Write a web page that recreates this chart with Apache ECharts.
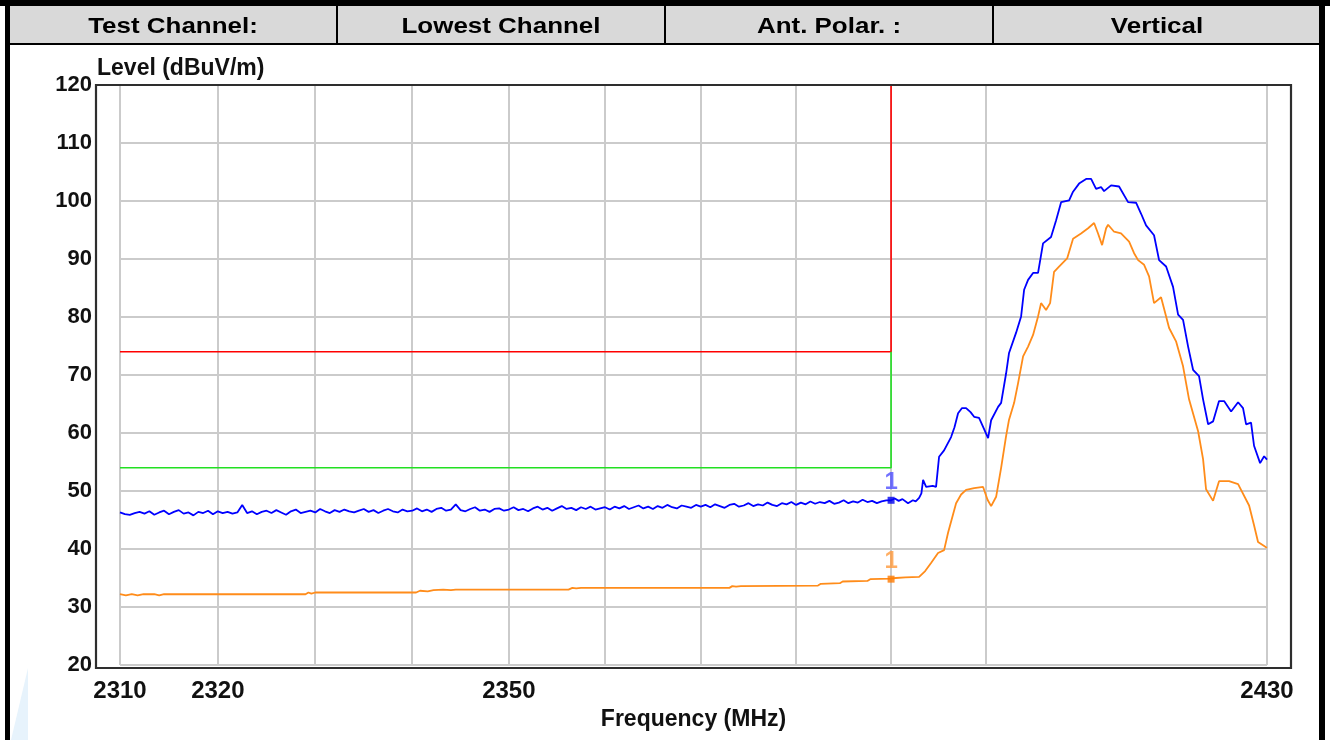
<!DOCTYPE html>
<html><head><meta charset="utf-8">
<script src="https://cdn.jsdelivr.net/npm/echarts@6/dist/echarts.min.js"></script>
<style>html,body{margin:0;padding:0;background:#fff}#c{width:1330px;height:740px}</style>
</head><body><div id="c"></div>
<script>
// ---------- texts ----------
const headerCells = ['Test Channel:', 'Lowest Channel', 'Ant. Polar. :', 'Vertical'];
const yAxisTitle = 'Level (dBuV/m)';
const xAxisTitle = 'Frequency (MHz)';
const markerText = '1';

// ---------- axes ----------
const xMin = 2310, xMax = 2430;            // MHz, logarithmic axis
const yMin = 20, yMax = 120, yStep = 10;   // dBuV/m
const gridFreqs = [2310, 2320, 2330, 2340, 2350, 2360, 2370, 2380, 2390, 2400, 2430];
const labelFreqs = [2310, 2320, 2350, 2430];

// ---------- limit lines ----------
const limitPeak = [[2310, 74], [2390, 74], [2390, 120]];
const limitAvg  = [[2310, 54], [2390, 54], [2390, 74]];

// ---------- peak trace (blue) ----------
// sweep 2310 .. 2390 MHz, 0.5 MHz per reading
const blueSweepStart = 2310, blueSweepStep = 0.5;
const blueSweep = [
 46.3,46.0,45.9,46.2,46.4,46.1,46.5,45.9,46.3,46.6,46.0,46.4,46.7,46.1,46.3,45.8,46.4,46.2,46.6,46.0,
 46.5,46.2,46.4,46.1,46.3,47.6,46.2,46.5,46.0,46.4,46.6,46.2,46.7,46.3,45.9,46.5,46.8,46.2,46.4,46.6,
 46.3,46.9,46.5,46.2,46.7,46.4,46.8,46.5,46.3,46.6,46.9,46.4,46.7,46.2,46.6,46.9,46.5,46.3,46.8,46.5,
 46.6,47.0,46.5,46.8,46.4,46.9,47.1,46.6,46.8,47.7,46.7,46.5,46.9,47.2,46.6,46.8,46.4,46.9,47.0,46.6,
 46.8,47.2,46.7,46.9,46.5,47.0,47.3,46.8,47.1,46.6,47.0,47.4,46.9,47.1,46.7,47.2,46.9,47.3,46.8,47.0,
 47.2,46.8,47.3,47.0,47.4,46.9,47.2,47.5,47.0,47.3,46.9,47.4,47.1,47.6,47.2,47.0,47.5,47.3,47.1,47.6,
 47.3,47.6,47.2,47.7,47.4,47.1,47.6,47.8,47.3,47.5,47.9,47.4,47.7,47.5,48.0,47.6,47.4,47.9,47.7,48.1,
 47.6,48.0,47.7,48.2,47.8,48.1,47.9,48.3,47.8,48.0,48.4,47.9,48.2,48.0,48.5,48.1,48.3,47.9,48.2,48.4,
 48.4
];
const blueTail = [
 [2390.4,48.7],[2390.8,48.3],[2391.2,48.6],[2391.79,47.9],[2392.3,48.4],[2392.6,48.2],[2392.96,48.8],
 [2393.2,49.6],[2393.38,51.9],[2393.7,50.7],[2394.4,50.9],[2394.75,50.7],[2395.07,55.9],[2395.6,57.0],
 [2396.34,59.3],[2396.7,61.0],[2397.08,63.4],[2397.5,64.3],[2397.93,64.3],[2398.4,63.6],[2398.78,62.8],
 [2399.3,62.6],[2399.8,60.8],[2400.26,59.1],[2400.58,62.2],[2401.32,64.5],[2401.64,65.2],[2402.17,70.3],
 [2402.48,73.8],[2403.23,77.3],[2403.76,80.1],[2404.08,84.7],[2404.5,86.4],[2405.03,87.6],[2405.56,87.6],
 [2406.09,92.7],[2406.94,93.8],[2407.48,96.7],[2408.01,99.8],[2408.86,100.1],[2409.28,101.6],[2409.92,103.0],
 [2410.67,103.8],[2411.2,103.8],[2411.73,102.1],[2412.26,102.4],[2412.58,101.7],[2413.33,102.7],[2414.18,102.5],
 [2415.14,99.8],[2415.99,99.7],[2416.53,97.8],[2417.06,95.8],[2417.91,94.1],[2418.45,89.8],[2419.2,88.7],
 [2419.94,85.2],[2420.48,80.4],[2421.01,79.5],[2421.55,74.9],[2422.08,70.9],[2422.72,69.8],[2423.15,65.8],
 [2423.69,61.5],[2424.22,62.0],[2424.86,65.5],[2425.4,65.5],[2426.15,63.7],[2426.9,65.3],[2427.43,64.3],
 [2427.76,61.5],[2428.29,61.8],[2428.61,57.8],[2429.26,54.8],[2429.69,56.0],[2430.0,55.4]
];

// ---------- average trace (orange) ----------
const orangeTrace = [
 [2310,32.2],[2310.6,32.0],[2311.2,32.2],[2311.8,32.0],[2312.4,32.2],[2313.5,32.2],[2314,32.0],[2314.5,32.2],
 [2329.0,32.2],[2329.3,32.5],[2329.6,32.3],[2330.0,32.5],
 [2340.4,32.5],[2340.8,32.8],[2341.6,32.7],[2342.2,32.9],[2343.2,33.0],[2344.0,32.9],[2344.5,33.0],
 [2356.2,33.0],[2356.6,33.3],[2357.0,33.2],[2357.5,33.3],
 [2373.0,33.3],[2373.3,33.6],[2373.7,33.5],[2374.2,33.6],
 [2382.3,33.7],[2382.6,34.0],[2384.6,34.1],[2384.9,34.4],[2387.5,34.5],[2387.8,34.8],[2390.0,34.9],
 [2390.5,35.0],[2391.5,35.1],[2392.96,35.2],[2393.6,36.2],[2394.22,37.6],[2394.96,39.3],[2395.6,39.8],
 [2396.02,42.8],[2396.87,47.9],[2397.4,49.4],[2397.93,50.2],[2398.78,50.5],[2399.73,50.7],[2400.2,48.5],
 [2400.58,47.4],[2401.11,49.0],[2401.64,54.0],[2402.17,59.5],[2402.48,62.3],[2403.02,65.2],[2403.44,68.6],
 [2403.97,73.2],[2404.5,74.9],[2405.03,76.9],[2405.56,80.1],[2405.88,82.4],[2406.41,81.2],[2406.84,82.4],
 [2407.26,87.8],[2407.79,88.7],[2408.65,90.1],[2409.28,93.5],[2410.13,94.4],[2410.88,95.3],[2411.52,96.2],
 [2411.94,94.4],[2412.37,92.4],[2412.8,95.3],[2413.01,95.9],[2413.65,94.7],[2414.39,94.4],[2415.25,93.0],
 [2415.78,91.0],[2416.21,89.8],[2416.85,89.0],[2417.38,87.0],[2417.91,82.4],[2418.66,83.4],[2419.2,80.1],
 [2419.52,78.1],[2420.26,75.8],[2421.01,71.5],[2421.65,65.8],[2422.62,60.3],[2423.15,55.5],[2423.47,50.3],
 [2424.22,48.3],[2424.86,51.7],[2425.93,51.7],[2426.9,51.2],[2428.08,47.5],[2428.61,44.1],[2429.04,41.2],
 [2429.9,40.3],[2430.0,40.2]
];

// ---------- markers ----------
const markerFreq = 2390;
const markerBlue = 48.4;
const markerOrange = 34.8;

// ---------- build ----------
const L = f => Math.log10(f);            // frequency axis is logarithmic
const toXY = arr => arr.map(p => [L(p[0]), p[1]]);
const blueData = blueSweep.map((v, i) => [L(blueSweepStart + i * blueSweepStep), v]).concat(toXY(blueTail));
const orangeData = toXY(orangeTrace);

const FONT = '"Liberation Sans", Arial, sans-serif';
const chart = echarts.init(document.getElementById('c'), null, {renderer: 'canvas'});

const cellW = 328, cellX0 = 9;
const graphics = [
  // outer border and header
  {type: 'rect', shape: {x: 9, y: 6, width: 1312, height: 37}, style: {fill: '#d9d9d9'}, z: 0},
  {type: 'rect', shape: {x: 0, y: 0, width: 1330, height: 6}, style: {fill: '#000'}, z: 1},
  {type: 'rect', shape: {x: 5, y: 0, width: 5, height: 740}, style: {fill: '#000'}, z: 1},
  {type: 'rect', shape: {x: 1319, y: 0, width: 6, height: 740}, style: {fill: '#000'}, z: 1},
  {type: 'rect', shape: {x: 9, y: 43, width: 1312, height: 2}, style: {fill: '#000'}, z: 1},
  {type: 'polygon', shape: {points: [[11, 740], [28, 668], [28, 740]]}, style: {fill: '#e7f3fc'}, z: 0},
  // plot frame
  {type: 'rect', shape: {x: 96, y: 85, width: 1195, height: 583}, style: {fill: 'none', stroke: '#2e2e2e', lineWidth: 2.2}, z: 5},
  // y-axis title
  {type: 'text', x: 97, y: 69, style: {text: yAxisTitle, font: 'bold 23px ' + FONT, fill: '#111', textAlign: 'left', textVerticalAlign: 'middle'}, z: 5}
];
for (let i = 1; i < headerCells.length; i++) {
  graphics.push({type: 'rect', shape: {x: cellX0 + i * cellW - 1, y: 6, width: 2, height: 38}, style: {fill: '#000'}, z: 1});
}
headerCells.forEach((t, i) => {
  graphics.push({type: 'text', x: cellX0 + i * cellW + cellW / 2, y: 27, scaleX: 1.18,
    style: {text: t, font: 'bold 22px ' + FONT, fill: '#000', textAlign: 'center', textVerticalAlign: 'middle'}, z: 2});
});

const option = {
  animation: false,
  backgroundColor: '#fff',
  grid: {left: 120, right: 63, top: 85, bottom: 75, containLabel: false},
  xAxis: {
    type: 'value', min: L(xMin), max: L(xMax),
    name: xAxisTitle, nameLocation: 'middle', nameGap: 38,
    nameTextStyle: {fontFamily: FONT, fontWeight: 'bold', fontSize: 23, color: '#111'},
    axisLine: {show: false},
    axisTick: {show: false, customValues: gridFreqs.map(L)},
    axisLabel: {customValues: labelFreqs.map(L), formatter: v => String(Math.round(Math.pow(10, v))),
      fontFamily: FONT, fontWeight: 'bold', fontSize: 24, color: '#111', margin: 14},
    splitLine: {show: true, lineStyle: {color: '#cbcbcb', width: 2}}
  },
  yAxis: {
    type: 'value', min: yMin, max: yMax, interval: yStep,
    axisLine: {show: false}, axisTick: {show: false},
    axisLabel: {fontFamily: FONT, fontWeight: 'bold', fontSize: 22, color: '#111', margin: 28},
    splitLine: {show: true, lineStyle: {color: '#cbcbcb', width: 2}}
  },
  graphic: graphics,
  series: [
    {type: 'line', data: toXY(limitPeak), symbol: 'none', lineStyle: {color: '#ff0000', width: 1.6}, z: 3},
    {type: 'line', data: toXY(limitAvg), symbol: 'none', lineStyle: {color: '#22e022', width: 1.6}, z: 3},
    {type: 'line', data: orangeData, symbol: 'none', lineStyle: {color: '#ff8c1a', width: 1.8}, z: 4},
    {type: 'line', data: blueData, symbol: 'none', lineStyle: {color: '#0000ff', width: 1.8}, z: 4},
    {type: 'scatter', data: [[L(markerFreq), markerBlue]], symbol: 'rect', symbolSize: 7,
      itemStyle: {color: '#0000ee'}, z: 6,
      label: {show: true, formatter: markerText, position: 'top', distance: 2,
        fontFamily: FONT, fontWeight: 'bold', fontSize: 24, color: '#4f4fff'}},
    {type: 'scatter', data: [[L(markerFreq), markerOrange]], symbol: 'rect', symbolSize: 7,
      itemStyle: {color: '#ff7a00'}, z: 6,
      label: {show: true, formatter: markerText, position: 'top', distance: 2,
        fontFamily: FONT, fontWeight: 'bold', fontSize: 24, color: '#ff9a3c'}}
  ]
};
chart.setOption(option);
</script>
</body></html>
